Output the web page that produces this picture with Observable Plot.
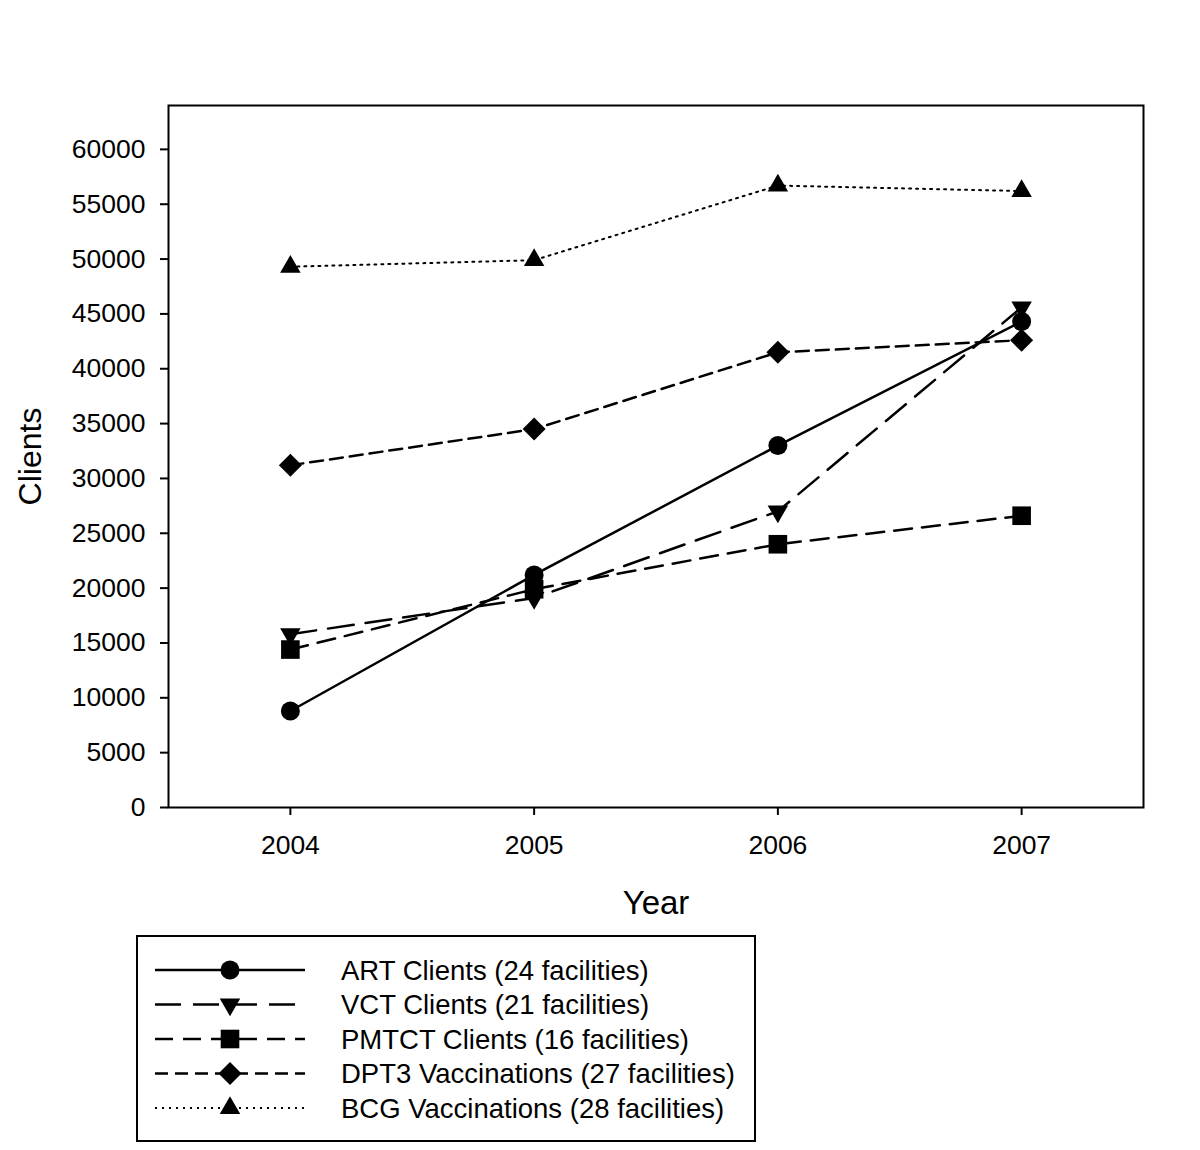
<!DOCTYPE html>
<html><head><meta charset="utf-8">
<script src="https://cdn.jsdelivr.net/npm/d3@7"></script>
<script src="https://cdn.jsdelivr.net/npm/@observablehq/plot@0.6"></script>
<style>
body{margin:0;background:#fff;font-family:"Liberation Sans",Arial,sans-serif;}
#wrap{position:relative;width:1200px;height:1150px;background:#fff;}
#legend{position:absolute;left:136px;top:935px;}
</style></head><body><div id="wrap"><div id="chart"></div><div id="legend"></div></div>
<script>
// ---- data ----
const years = [2004, 2005, 2006, 2007];
const seriesNames = [
  "ART Clients (24 facilities)",
  "VCT Clients (21 facilities)",
  "PMTCT Clients (16 facilities)",
  "DPT3 Vaccinations (27 facilities)",
  "BCG Vaccinations (28 facilities)"
];
const artClients = [8800, 21200, 33000, 44300];
const vctClients = [15800, 19100, 27000, 45600];
const pmtctClients = [14400, 19900, 24000, 26600];
const dpt3Vaccinations = [31200, 34500, 41500, 42600];
const bcgVaccinations = [49300, 49900, 56700, 56200];
const yTicks = [0, 5000, 10000, 15000, 20000, 25000, 30000, 35000, 40000, 45000, 50000, 55000, 60000];

const seriesValues = [artClients, vctClients, pmtctClients, dpt3Vaccinations, bcgVaccinations];

// ---- styles ----
const styles = [
  {dash: null,    width: 2.5, symbol: "circle",   r: 9.5, rotate: 0},
  {dash: "26,12", width: 2.5, symbol: "triangle", r: 7.6, rotate: 180},
  {dash: "18,10", width: 2.5, symbol: "square",   r: 10.5, rotate: 0},
  {dash: "13,7",  width: 2.5, symbol: "square",   r: 9.2, rotate: 45},
  {dash: "2,5",   width: 2,   symbol: "triangle", r: 7.6, rotate: 0}
];

const rows = seriesNames.flatMap((name, i) =>
  years.map((year, j) => ({series: name, year, value: seriesValues[i][j]})));

const marks = [];
seriesNames.forEach((name, i) => {
  const d = rows.filter(r => r.series === name);
  const s = styles[i];
  marks.push(Plot.line(d, {x: "year", y: "value", stroke: "black", strokeWidth: s.width,
    strokeDasharray: s.dash || undefined}));
});
seriesNames.forEach((name, i) => {
  const d = rows.filter(r => r.series === name);
  const s = styles[i];
  marks.push(Plot.dot(d, {x: "year", y: "value", symbol: s.symbol, r: s.r, fill: "black",
    stroke: "none", rotate: s.rotate}));
});

const chart = Plot.plot({
  width: 1200,
  height: 930,
  marginLeft: 168,
  marginRight: 57,
  marginTop: 105,
  marginBottom: 123,
  style: {fontFamily: "'Liberation Sans', Arial, sans-serif", background: "#fff", color: "black"},
  x: {domain: [2003.5, 2007.5]},
  y: {domain: [0, 64000]},
  marks: [
    Plot.axisX({ticks: years, tickFormat: "d", tickSize: 8, tickPadding: 20, fontSize: 26.5, label: null, strokeWidth: 2}),
    Plot.axisY({ticks: yTicks, tickFormat: "d", tickSize: 8, tickPadding: 15, fontSize: 26.5, label: null, strokeWidth: 2}),
    ...marks,
    Plot.frame({stroke: "black", strokeWidth: 2}),
    Plot.text(["Year"], {text: d => d, frameAnchor: "bottom", dy: 106, fontSize: 33}),
    Plot.text(["Clients"], {text: d => d, frameAnchor: "left", textAnchor: "middle", dx: -138, rotate: -90, fontSize: 32})
  ]
});
document.getElementById("chart").appendChild(chart);

// ---- legend ----
const lw = 620, lh = 207;
const svg = d3.select("#legend").append("svg")
  .attr("width", lw).attr("height", lh)
  .style("font-family", "'Liberation Sans', Arial, sans-serif");
svg.append("rect").attr("x", 1).attr("y", 1).attr("width", lw - 2).attr("height", lh - 2)
  .attr("fill", "white").attr("stroke", "black").attr("stroke-width", 2);
const symMap = {circle: d3.symbolCircle, triangle: d3.symbolTriangle, square: d3.symbolSquare};
seriesNames.forEach((name, i) => {
  const s = styles[i];
  const cy = 35 + i * 34.5;
  const g = svg.append("g");
  g.append("line").attr("x1", 19).attr("x2", 169).attr("y1", cy).attr("y2", cy)
    .attr("stroke", "black").attr("stroke-width", s.width)
    .attr("stroke-dasharray", s.dash || null);
  g.append("path")
    .attr("d", d3.symbol(symMap[s.symbol], Math.PI * s.r * s.r)())
    .attr("transform", `translate(94,${cy}) rotate(${s.rotate})`)
    .attr("fill", "black");
  g.append("text").attr("x", 205).attr("y", cy).attr("dy", "0.35em")
    .attr("font-size", 27.5).text(name);
});
</script></body></html>
